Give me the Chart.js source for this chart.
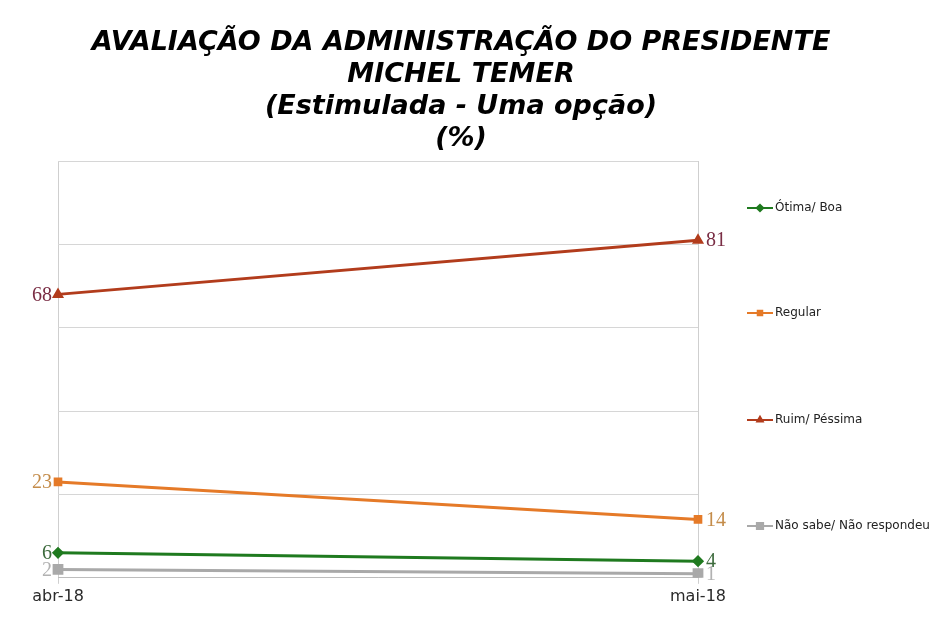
<!DOCTYPE html>
<html>
<head>
<meta charset="utf-8">
<script src="https://cdn.jsdelivr.net/npm/chart.js@4/dist/chart.umd.min.js"></script>
<style>
  html,body{margin:0;padding:0;background:#fff;}
  #wrap{position:relative;width:949px;height:633px;}
  #title{position:absolute;left:0;top:25px;width:922px;text-align:center;
    font:italic bold 27px "DejaVu Sans",sans-serif;line-height:32px;color:#000;margin:0;}
  canvas{position:absolute;left:0;top:0;}
</style>
</head>
<body>
<div id="wrap">
  <canvas id="c" width="949" height="633"></canvas>
  <h1 id="title">AVALIAÇÃO DA ADMINISTRAÇÃO DO PRESIDENTE<br>MICHEL TEMER<br>(Estimulada - Uma opção)<br>(%)</h1>
</div>
<script>
// values
const months = ["abr-18", "mai-18"];
const otimaBoa = [6, 4];
const regular = [23, 14];
const ruimPessima = [68, 81];
const naoSabe = [2, 1];
const seriesNames = ["Ótima/ Boa", "Regular", "Ruim/ Péssima", "Não sabe/ Não respondeu"];
const labelColors = ["#3d6b3d", "#c48c4a", "#7a2e45", "#b2b2b2"];

// data labels beside each point (left of first, right of last)
const valueLabels = {
  id: "valueLabels",
  afterDatasetsDraw(chart){
    const ctx = chart.ctx;
    ctx.save();
    ctx.font = '20px "Liberation Serif","DejaVu Serif",serif';
    ctx.textBaseline = "middle";
    chart.data.datasets.forEach((ds, i)=>{
      const meta = chart.getDatasetMeta(i);
      meta.data.forEach((pt, j)=>{
        ctx.fillStyle = labelColors[i];
        if (j === 0){ ctx.textAlign = "right"; ctx.fillText(ds.data[j], pt.x - 6, pt.y + 1); }
        else { ctx.textAlign = "left"; ctx.fillText(ds.data[j], pt.x + 8, pt.y + 1); }
      });
    });
    ctx.restore();
  }
};

// legend on the right, one item per quarter of the plot height
const sideLegend = {
  id: "sideLegend",
  afterDraw(chart){
    const ctx = chart.ctx;
    const area = chart.chartArea;
    const ys = [208, 313, 420, 526];
    ctx.save();
    chart.data.datasets.forEach((ds, i)=>{
      const y = ys[i], x0 = area.right + 49;
      ctx.strokeStyle = ds.borderColor;
      ctx.lineWidth = 2;
      ctx.beginPath(); ctx.moveTo(x0, y); ctx.lineTo(x0 + 26, y); ctx.stroke();
      Chart.helpers.drawPoint(ctx, {pointStyle: ds.pointStyle, radius: ds.pointRadius * 0.8, borderWidth: 1}, x0 + 13, y);
      ctx.fillStyle = ds.borderColor;
      ctx.fill();
      ctx.fillStyle = "#222";
      ctx.font = '12px "DejaVu Sans",sans-serif';
      ctx.textAlign = "left"; ctx.textBaseline = "middle";
      ctx.fillText(seriesNames[i], x0 + 28, y);
    });
    ctx.restore();
  }
};

function mk(label, data, color, style, r){
  return {label, data, borderColor: color, backgroundColor: color, pointBackgroundColor: color,
    pointBorderColor: color, pointStyle: style, pointRadius: r, pointHoverRadius: r,
    borderWidth: 3, tension: 0};
}

new Chart(document.getElementById("c"), {
  type: "line",
  data: {
    labels: months,
    datasets: [
      mk(seriesNames[0], otimaBoa, "#1f7a1f", "rectRot", 4),
      mk(seriesNames[1], regular, "#e57a28", "rect", 4),
      mk(seriesNames[2], ruimPessima, "#b23c1c", "triangle", 4),
      mk(seriesNames[3], naoSabe, "#a9a9a9", "rect", 5.5),
    ]
  },
  options: {
    responsive: false,
    animation: false,
    layout: { padding: { left: 58, right: 251, top: 161, bottom: 24 } },
    plugins: { legend: { display: false }, title: { display: false }, tooltip: { enabled: false } },
    scales: {
      x: {
        offset: false,
        grid: { color: "#cfcfcf", tickLength: 6, lineWidth: 1 },
        border: { color: "#bdbdbd" },
        ticks: { color: "#2a2a2a", font: { size: 16, family: '"DejaVu Sans",sans-serif' }, padding: 3 }
      },
      y: {
        min: 0, max: 100,
        ticks: { display: false, stepSize: 20 },
        grid: { color: "#d6d6d6", drawTicks: false },
        border: { display: false }
      }
    }
  },
  plugins: [valueLabels, sideLegend]
});
</script>
</body>
</html>
